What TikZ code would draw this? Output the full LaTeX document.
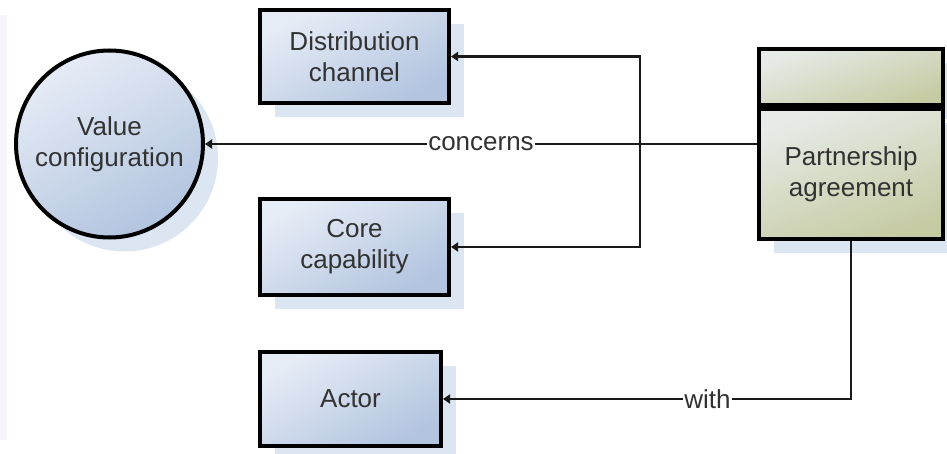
\documentclass[tikz,border=0pt]{standalone}
\usepackage{fontspec}
\setmainfont{Liberation Sans}
\usetikzlibrary{shadows,arrows.meta}

\definecolor{boxlight}{RGB}{230,236,246}
\definecolor{boxdark}{RGB}{178,196,223}
\definecolor{olivelight}{RGB}{230,235,232}
\definecolor{olivedark}{RGB}{198,203,163}
\definecolor{shadowblue}{RGB}{220,229,242}
\definecolor{txt}{RGB}{50,50,50}
\definecolor{edgestripe}{RGB}{249,244,251}

\tikzset{
  elem/.style={draw=black, line width=4pt, text=txt, align=center,
    font=\fontsize{26}{31}\selectfont,
    drop shadow={shadow xshift=15pt, shadow yshift=-14pt, fill=shadowblue, opacity=1}},
  bluebox/.style={elem, rectangle, top color=boxlight, bottom color=boxdark, shading angle=30},
  bluecircle/.style={elem, circle, inner sep=0pt, top color=boxlight, bottom color=boxdark, shading angle=30},
  olivebox/.style={elem, rectangle, top color=olivelight, bottom color=olivedark, shading angle=20},
  conn/.style={draw=black!90, line width=2.7pt, -{Triangle[length=7pt,width=9pt]}},
  rel/.style={fill=white, text=txt, inner sep=1pt, font=\fontsize{26}{31}\selectfont}
}

\begin{document}
\begin{tikzpicture}[x=1pt, y=-1pt]
  \useasboundingbox (0,0) rectangle (947,454);
  \fill[edgestripe] (0,15) rectangle (7,440);

  % elements
  \node[bluecircle, minimum size=187pt] (vc) at (109.5,144) {Value\\configuration};
  \node[bluebox, minimum width=189pt, minimum height=93pt] (dc) at (354.5,56.5) {Distribution\\channel};
  \node[bluebox, minimum width=189pt, minimum height=96pt] (cc) at (354.5,247) {Core\\capability};
  \node[bluebox, minimum width=181pt, minimum height=94pt] (ac) at (350.5,399) {Actor};
  \node[olivebox, minimum width=184pt, minimum height=56pt] (pahead) at (851,77) {};
  \node[olivebox, minimum width=184pt, minimum height=130pt] (pa) at (851,174) {Partnership\\agreement};

  % junction of the concerns relation
  \coordinate (j) at (640,144);

  % relations
  \draw[conn] (pa.west |- j) -- node[rel, pos=0.5] {concerns} (vc.east);
  \draw[conn] (j) |- (dc.east);
  \draw[conn] (j) |- (cc.east);
  \draw[conn] (pa.south) |- node[rel, pos=0.676] {with} (ac.east);
\end{tikzpicture}
\end{document}
